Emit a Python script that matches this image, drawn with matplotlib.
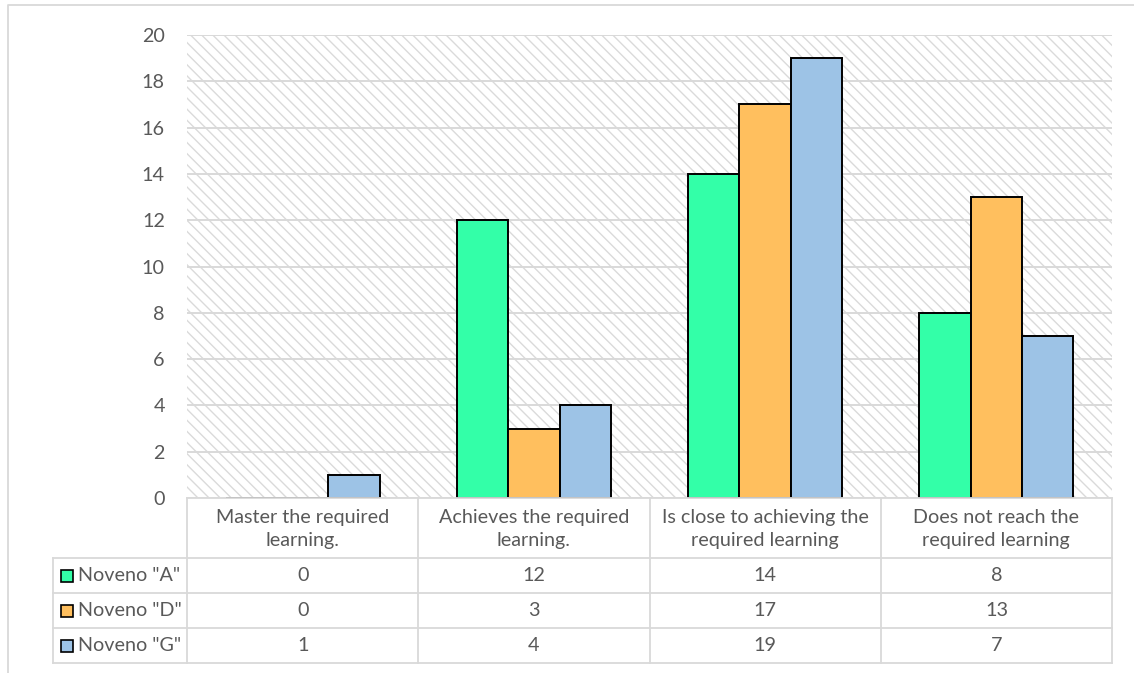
import matplotlib
matplotlib.use("Agg")
import matplotlib.pyplot as plt
import matplotlib.transforms as mtransforms
from matplotlib.patches import Rectangle
from matplotlib.lines import Line2D

# ---- data ----
categories = ["Master the required\nlearning.",
              "Achieves the required\nlearning.",
              "Is close to achieving the\nrequired learning",
              "Does not reach the\nrequired learning"]
series_names = ['Noveno "A"', 'Noveno "D"', 'Noveno "G"']
noveno_a = [0, 12, 14, 8]
noveno_d = [0, 3, 17, 13]
noveno_g = [1, 4, 19, 7]
y_ticks = [0, 2, 4, 6, 8, 10, 12, 14, 16, 18, 20]

series_values = [noveno_a, noveno_d, noveno_g]
colors = ["#33FFA8", "#FFBF5E", "#9DC3E6"]

W, H, DPI = 1134, 673, 100
plt.rcParams["font.family"] = ["Lato", "DejaVu Sans"]
text_color = "#595959"
line_color = "#D9D9D9"
fs = 14.2

fig = plt.figure(figsize=(W / DPI, H / DPI), dpi=DPI)

# pixel helper (origin top-left)
def fx(px):
    return px / W

def fy(py):
    return 1 - py / H

# plot area
left, right, top, bottom = 187, 1112, 35, 498
ax = fig.add_axes([fx(left), fy(bottom), fx(right - left), (bottom - top) / H])
ax.set_xlim(-0.5, len(categories) - 0.5)
ax.set_ylim(0, 20)
ax.set_yticks(y_ticks)
ax.set_xticks([])
for s in ax.spines.values():
    s.set_visible(False)
ax.tick_params(axis="y", length=0, pad=16, labelsize=fs, labelcolor=text_color)
ax.set_axisbelow(True)
ax.yaxis.grid(True, color=line_color, linewidth=1.4)

# hatched plot-area background
plt.rcParams["hatch.linewidth"] = 1.0
bg = Rectangle((0, 0), 1, 1, transform=ax.transAxes, facecolor="white",
               edgecolor="#DADADA", linewidth=0, hatch="\\\\\\", zorder=0.1)
ax.add_patch(bg)

# bars
n = len(series_values)
bar_w = 1 / (n + 1.5)
for i, (vals, col) in enumerate(zip(series_values, colors)):
    xs = [c + (i - (n - 1) / 2) * bar_w for c in range(len(categories))]
    ax.bar(xs, vals, width=bar_w, color=col, edgecolor="black",
           linewidth=1.4, zorder=3)

# ---- data table below the plot ----
trans = mtransforms.blended_transform_factory(ax.transData, fig.transFigure)
x_edges = [c - 0.5 for c in range(len(categories) + 1)]
units_per_px = len(categories) / (right - left)
x_label_left = -0.5 - (187 - 53) * units_per_px
row_edges = [498, 558, 593, 628, 663]

def hline(x0, x1, py):
    fig.add_artist(Line2D([x0, x1], [fy(py), fy(py)], transform=trans,
                          color=line_color, linewidth=1.3, clip_on=False))

def vline(x, py0, py1):
    fig.add_artist(Line2D([x, x], [fy(py0), fy(py1)], transform=trans,
                          color=line_color, linewidth=1.3, clip_on=False))

hline(x_edges[0], x_edges[-1], row_edges[0])
for py in row_edges[1:]:
    hline(x_label_left, x_edges[-1], py)
for x in x_edges:
    vline(x, row_edges[0], row_edges[-1])
vline(x_label_left, row_edges[1], row_edges[-1])

# category header cells
for c, label in enumerate(categories):
    fig.text(c, fy((row_edges[0] + row_edges[1]) / 2 + 1), label, transform=trans,
             ha="center", va="center", fontsize=fs, color=text_color,
             linespacing=1.38)

# series rows
for r, (name, vals, col) in enumerate(zip(series_names, series_values, colors)):
    yc = fy((row_edges[r + 1] + row_edges[r + 2]) / 2)
    key_x = x_label_left + 8 * units_per_px
    key = Rectangle((key_x, yc - 6 / H), 12 * units_per_px, 12 / H,
                    transform=trans, facecolor=col, edgecolor="black",
                    linewidth=1.2, clip_on=False)
    fig.add_artist(key)
    fig.text(x_label_left + 25 * units_per_px, yc, name, transform=trans,
             ha="left", va="center", fontsize=fs, color=text_color)
    for c, v in enumerate(vals):
        fig.text(c, yc, str(v), transform=trans, ha="center", va="center",
                 fontsize=fs, color=text_color)

# outer chart border
fig.add_artist(Line2D([fx(8), fx(8), 1.0], [0.0, fy(5), fy(5)],
                      transform=fig.transFigure, color=line_color,
                      linewidth=1.3))

fig.savefig("out.png", dpi=DPI)
